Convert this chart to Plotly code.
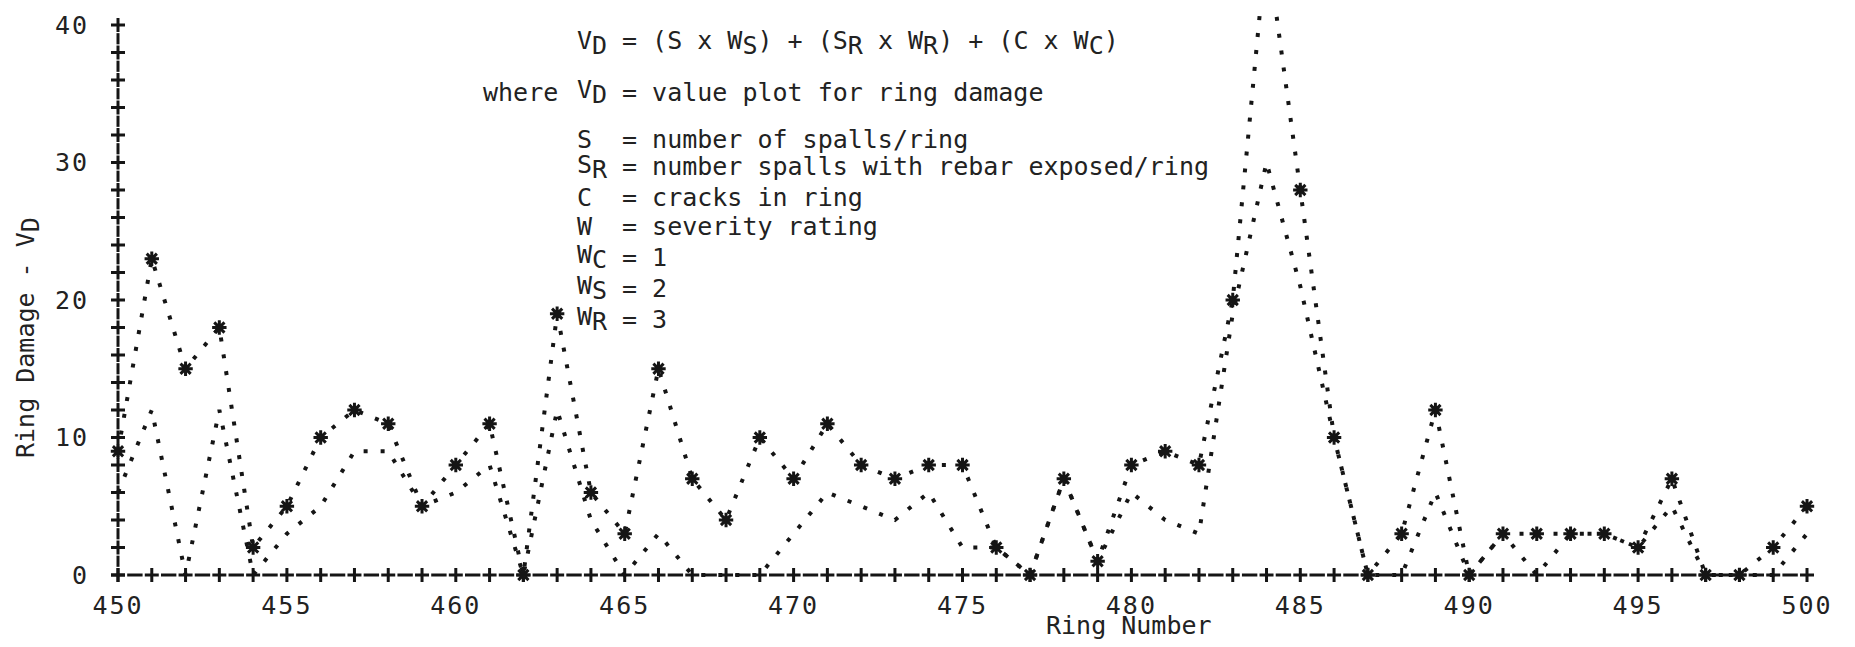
import plotly.graph_objects as go

# ring numbers and damage values
rings = list(range(450, 501))
vd_total = [9, 23, 15, 18, 2, 5, 10, 12, 11, 5,
            8, 11, 0, 19, 6, 3, 15, 7, 4, 10,
            7, 11, 8, 7, 8, 8, 2, 0, 7, 1,
            8, 9, 8, 20, 46, 28, 10, 0, 3, 12,
            0, 3, 3, 3, 3, 2, 7, 0, 0, 2, 5]
vd_lower = [6, 12, 0, 12, 0, 3, 5, 9, 9, 5,
            6, 8, 0, 12, 4, 0, 3, 0, 0, 0,
            3, 6, 5, 4, 6, 2, 2, 0, 7, 1,
            6, 4, 3, 19, 30, 21, 10, 0, 0, 6,
            0, 3, 0, 3, 3, 2, 5, 0, 0, 0, 3]

x_ticks = list(range(450, 501, 5))
y_ticks = [0, 10, 20, 30, 40]
y_marks = list(range(0, 41))

# page body has an 8px margin, so the figure is drawn 8px in from the corner
OFF = 8
W, H = 1855 - 2 * OFF, 647 - 2 * OFF
XU, YU = 33.78, 13.75          # px per ring / per damage unit
X450, Y0 = 118 - OFF, 575 - OFF
L, R, T, B = 90, 0, 0, 57
x_rng = [450 - (X450 - L) / XU, 450 + (W - R - X450) / XU]
y_rng = [-((H - B) - Y0) / YU, Y0 / YU]

FONT = "DejaVu Sans Mono"
INK = "#151515"
TXT = "#222222"


def px(x):
    return (x - OFF - L) / (W - L - R)


def py(y):
    return (H - B - (y - OFF)) / (H - T - B)


def sub(s):
    # typewriter style: subscript keeps full letter size
    return '<sub><span style="font-size:25px">' + s + '</span></sub>'


def spaced(v):
    return '<span style="letter-spacing:2px">' + str(v) + '</span>'


fig = go.Figure()

# dashed baseline with + at each ring
fig.add_trace(go.Scatter(
    x=[r + 0.5 for r in rings[:-1]], y=[0] * (len(rings) - 1),
    mode="markers", cliponaxis=False, hoverinfo="skip",
    marker=dict(symbol="line-ew", size=11, line=dict(width=3, color=INK)),
))
fig.add_trace(go.Scatter(
    x=rings, y=[0] * len(rings),
    mode="markers", cliponaxis=False, hoverinfo="skip",
    marker=dict(symbol="cross-thin", size=10, line=dict(width=3, color=INK)),
))
# vertical axis: + on even values, short bar on odd values
even = [v for v in y_marks if v % 2 == 0]
odd = [v for v in y_marks if v % 2 == 1]
fig.add_trace(go.Scatter(
    x=[rings[0]] * len(even), y=even,
    mode="markers", cliponaxis=False, hoverinfo="skip",
    marker=dict(symbol="cross-thin", size=10, line=dict(width=3, color=INK)),
))
fig.add_trace(go.Scatter(
    x=[rings[0]] * len(odd), y=odd,
    mode="markers", cliponaxis=False, hoverinfo="skip",
    marker=dict(symbol="line-ns", size=8, line=dict(width=3, color=INK)),
))

# dotted curves
fig.add_trace(go.Scatter(
    x=rings, y=vd_lower, mode="lines",
    line=dict(color=INK, width=4, dash="4px,13px"),
))
fig.add_trace(go.Scatter(
    x=rings, y=vd_total, mode="lines",
    line=dict(color=INK, width=4, dash="4px,13px"),
))
fig.add_trace(go.Scatter(
    x=rings, y=vd_total, mode="markers",
    marker=dict(symbol="asterisk", size=12, line=dict(width=3, color=INK)),
))

fnt = dict(family=FONT, size=25, color=TXT)
ann = []


def note(x, y, text, anchor="left"):
    ann.append(dict(x=px(x), y=py(y), xref="paper", yref="paper",
                    text=text, showarrow=False, xanchor=anchor,
                    yanchor="middle", font=fnt))


# formula block
note(575, 43, "V" + sub("D"))
note(620, 43, "= (S x W" + sub("S") + ") + (S" + sub("R") + " x W" + sub("R")
     + ") + (C x W" + sub("C") + ")")
note(560, 92, "where", anchor="right")
note(575, 92, "V" + sub("D"))
note(620, 92, "= value plot for ring damage")
rows = [("S", "= number of spalls/ring", 139),
        ("S" + sub("R"), "= number spalls with rebar exposed/ring", 167),
        ("C", "= cracks in ring", 198),
        ("W", "= severity rating", 227),
        ("W" + sub("C"), "= 1", 257),
        ("W" + sub("S"), "= 2", 288),
        ("W" + sub("R"), "= 3", 319)]
for lab, desc, yy in rows:
    note(575, yy, lab)
    note(620, yy, desc)

# axis titles
note(1129, 625, "Ring Number", anchor="center")
ann.append(dict(x=px(28), y=py(338), xref="paper", yref="paper",
                text="Ring Damage - V" + sub("D"), showarrow=False,
                textangle=-90, xanchor="center", yanchor="middle", font=fnt))

fig.update_layout(
    width=W, height=H,
    margin=dict(l=L, r=R, t=T, b=B),
    paper_bgcolor="white", plot_bgcolor="white",
    showlegend=False,
    annotations=ann,
    xaxis=dict(range=x_rng, tickvals=x_ticks,
               ticktext=[spaced(v) for v in x_ticks], showgrid=False,
               zeroline=False, showline=False, ticks="",
               tickfont=fnt, ticklabelstandoff=6),
    yaxis=dict(range=y_rng, tickvals=y_ticks,
               ticktext=[spaced(v) for v in y_ticks], showgrid=False,
               zeroline=False, showline=False, ticks="",
               tickfont=fnt, ticklabelstandoff=8),
)

fig.write_html("out.html")
